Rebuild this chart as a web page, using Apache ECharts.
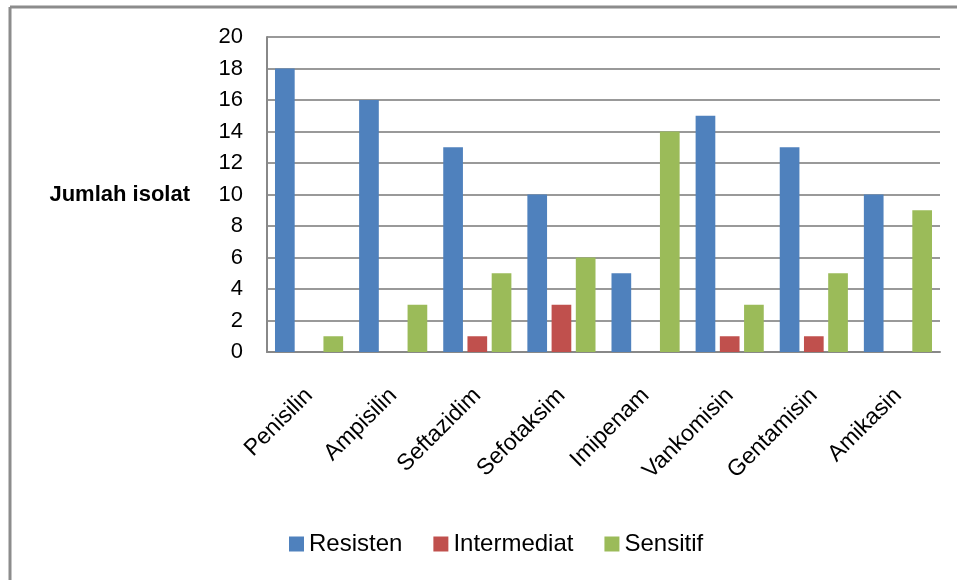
<!DOCTYPE html>
<html>
<head>
<meta charset="utf-8">
<script src="https://cdn.jsdelivr.net/npm/echarts@6/dist/echarts.min.js"></script>
<style>
  html, body { margin: 0; padding: 0; background: #fff; }
  #chart { width: 957px; height: 580px; }
</style>
</head>
<body>
<div id="chart"></div>
<script>
// antibiotic categories
var categories = ['Penisilin', 'Ampisilin', 'Seftazidim', 'Sefotaksim', 'Imipenam', 'Vankomisin', 'Gentamisin', 'Amikasin'];

// isolate counts per result
var resisten = [18, 16, 13, 10, 5, 15, 13, 10];
var intermediat = [0, 0, 1, 3, 0, 1, 1, 0];
var sensitif = [1, 3, 5, 6, 14, 3, 5, 9];

var yTicks = { min: 0, max: 20, interval: 2 };

var FONT = 'Liberation Sans';

var chart = echarts.init(document.getElementById('chart'));

var option = {
    animation: false,
    textStyle: { fontFamily: FONT },
    color: ['#4F81BD', '#C0504D', '#9BBB59'],
    grid: {
        left: 267,
        right: 17,
        top: 37,
        bottom: 228
    },
    graphic: [
        // outer frame (top and left edges only)
        { type: 'line', shape: { x1: 10, y1: 7, x2: 957, y2: 7 }, style: { stroke: '#8c8c8c', lineWidth: 3 } },
        { type: 'line', shape: { x1: 10, y1: 7, x2: 10, y2: 580 }, style: { stroke: '#8c8c8c', lineWidth: 3 } },
        {
            type: 'text',
            right: 957 - 190,
            top: 184,
            style: { text: 'Jumlah isolat', fontFamily: FONT, fontWeight: 'bold', fontSize: 22, fill: '#000' }
        }
    ],
    legend: {
        bottom: 19,
        left: 284,
        icon: 'rect',
        itemWidth: 15,
        itemHeight: 15,
        itemGap: 31,
        textStyle: { fontFamily: FONT, fontSize: 24, color: '#000' },
        data: ['Resisten', 'Intermediat', 'Sensitif']
    },
    xAxis: {
        type: 'category',
        data: categories,
        axisLine: { lineStyle: { color: '#888', width: 2 } },
        axisTick: { show: false },
        axisLabel: { rotate: 45, fontSize: 23, color: '#000', margin: 40, interval: 0 }
    },
    yAxis: {
        type: 'value',
        min: yTicks.min,
        max: yTicks.max,
        interval: yTicks.interval,
        axisLine: { show: true, lineStyle: { color: '#888', width: 2 } },
        axisTick: { show: false },
        axisLabel: { fontSize: 22, color: '#000', margin: 24 },
        splitLine: { lineStyle: { color: '#999', width: 2 } }
    },
    series: [
        { name: 'Resisten', type: 'bar', data: resisten, barGap: '23%', barCategoryGap: '19%' },
        { name: 'Intermediat', type: 'bar', data: intermediat },
        { name: 'Sensitif', type: 'bar', data: sensitif }
    ]
};

chart.setOption(option);
</script>
</body>
</html>
